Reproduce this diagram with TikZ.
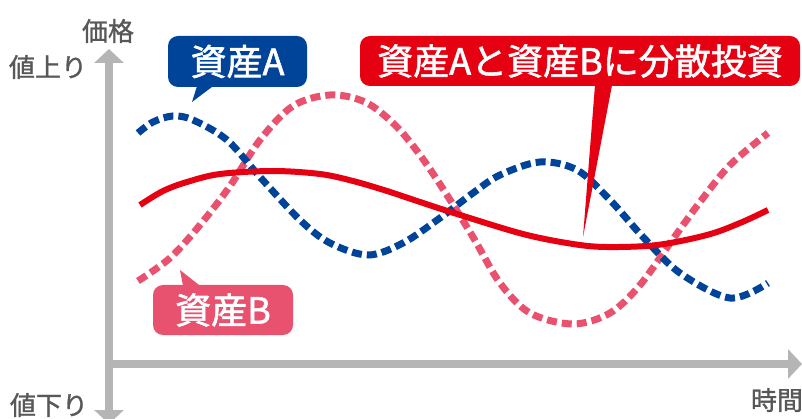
\documentclass[tikz,border=0pt]{standalone}
\usepackage{fontspec}
\setmainfont{Noto Sans CJK JP}
\newfontfamily\labelfont{Noto Sans CJK JP}[FakeBold=1.2]
\newfontfamily\calloutfont{Noto Sans CJK JP}[FakeBold=1.6]
\usetikzlibrary{arrows.meta}

\definecolor{assetblue}{HTML}{00449A}
\definecolor{assetpink}{HTML}{E9526F}
\definecolor{mixred}{HTML}{E50012}
\definecolor{axisgray}{HTML}{B5B5B6}
\definecolor{labelgray}{HTML}{595757}

\begin{document}
\begin{tikzpicture}[x=1pt,y=-1pt,
    axisline/.style={line width=8pt,draw=axisgray},
    axislabel/.style={text=labelgray,inner sep=0pt,font=\labelfont\fontsize{26}{26}\selectfont},
    callout/.style={rounded corners=10pt,inner sep=0pt,minimum height=51pt,
        text=white,font=\calloutfont\fontsize{36}{36}\selectfont},
    dashcurve/.style={line width=7pt,dash pattern=on 10pt off 5pt}]
    \useasboundingbox (0,0) rectangle (802,419);

    % Axes
    \coordinate (ytop) at (109,49);
    \coordinate (ybot) at (109,424);
    \coordinate (origin) at (105,364);
    \coordinate (xend) at (802,364);
    \draw[axisline,{Triangle[width=29pt,length=14pt]}-{Triangle[width=29pt,length=14pt]}] (ybot) -- (ytop);
    \draw[axisline,-{Triangle[width=29pt,length=14pt]}] (origin) -- (xend);
    \node[axislabel] (price) at (108,31) {価格};
    \node[axislabel] (up) at (48,67) {値上り};
    \node[axislabel] (down) at (49,405) {値下り};
    \node[axislabel] (time) at (777,400) {時間};

    % Asset B (pink, dashed)
    \draw[dashcurve,draw=assetpink] plot[smooth,tension=0.55] coordinates
        {(138,281) (170,258) (200,225) (230,186) (260,140) (293,106) (330,95)
         (365,102) (395,125) (420,155) (445,192) (473,237) (500,283) (530,313)
         (573,324) (610,313) (640,285) (673,239) (700,202) (730,165) (768,133)};

    % Asset A (blue, dashed)
    \draw[dashcurve,draw=assetblue] plot[smooth,tension=0.55] coordinates
        {(138,133) (153,122) (173,116) (193,120) (227,140) (260,177) (300,220)
         (330,243) (368,255) (403,243) (440,218) (473,193) (500,175) (540,162)
         (577,170) (610,200) (643,237) (680,273) (730,298) (768,283)};

    % Both assets (red, solid)
    \draw[line width=6pt,draw=mixred] plot[smooth,tension=0.55] coordinates
        {(140,205) (163,191) (187,182) (220,174) (273,171) (320,174) (353,181)
         (387,191) (420,202) (457,214) (523,234) (573,244) (607,247) (657,245)
         (707,235) (740,223) (768,210)};

    % Callouts
    \node[callout,fill=assetblue,minimum width=139pt] (calloutA) at (237.5,61.5) {資産A};
    \coordinate (tipA) at (192,102);
    \fill[assetblue] ([xshift=-40.5pt,yshift=1pt]calloutA.south) -- (tipA)
        -- ([xshift=-24.5pt,yshift=1pt]calloutA.south) -- cycle;

    \node[callout,fill=assetpink,minimum width=140pt,minimum height=50pt] (calloutB) at (223,310) {資産B};
    \coordinate (tipB) at (180,270);
    \fill[assetpink] ([xshift=-40pt,yshift=-1pt]calloutB.north) -- (tipB)
        -- ([xshift=-23pt,yshift=-1pt]calloutB.north) -- cycle;

    \node[callout,fill=mixred,minimum width=440pt,minimum height=50pt] (calloutAB) at (580,61) {資産Aと資産Bに分散投資};
    \coordinate (tipAB) at (583,237);
    \fill[mixred] ([xshift=15pt,yshift=1pt]calloutAB.south) -- (tipAB)
        -- ([xshift=32pt,yshift=1pt]calloutAB.south) -- cycle;
\end{tikzpicture}
\end{document}
